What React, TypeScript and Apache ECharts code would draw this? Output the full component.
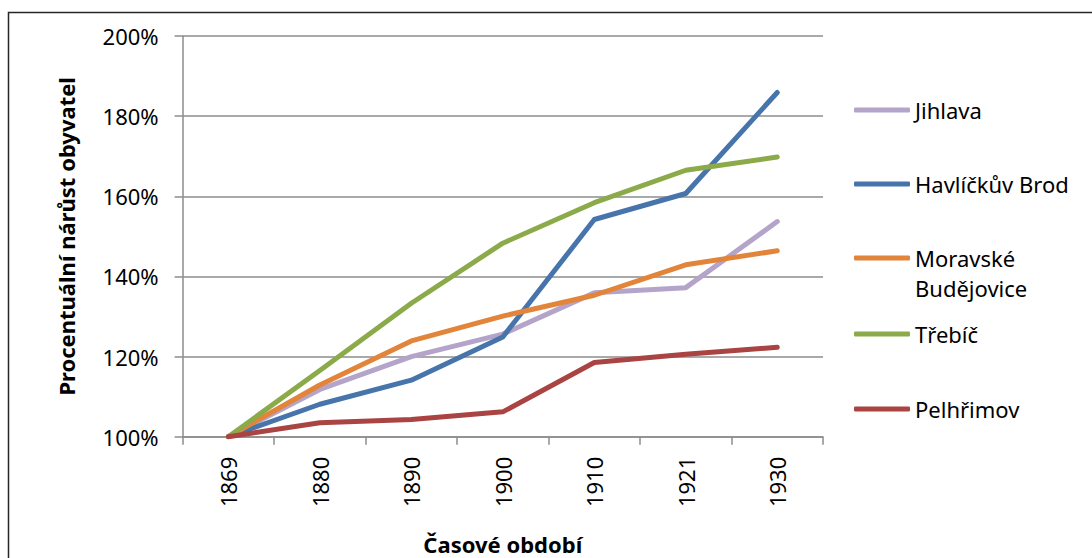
import React, { useEffect, useRef } from "react";
import * as echarts from "echarts";

const years = ["1869", "1880", "1890", "1900", "1910", "1921", "1930"];
const jihlava = [100, 111.8, 120.0, 125.6, 135.9, 137.2, 153.7];
const havlickuvBrod = [100, 108.1, 114.1, 124.9, 154.2, 160.7, 185.9];
const moravskeBudejovice = [100, 112.9, 123.9, 130.1, 135.3, 142.9, 146.4];
const trebic = [100, 116.5, 133.3, 148.3, 158.4, 166.5, 169.8];
const pelhrimov = [100, 103.5, 104.3, 106.2, 118.5, 120.6, 122.3];

const seriesNames = ["Jihlava", "Havlíčkův Brod", "Moravské Budějovice", "Třebíč", "Pelhřimov"];
const seriesData = [jihlava, havlickuvBrod, moravskeBudejovice, trebic, pelhrimov];
const seriesColors = ["#B4A4C9", "#4674AB", "#E2843A", "#8BAA4A", "#A94442"];
const legendCenters = [110, 184, 258, 334, 409];

const yAxisTitle = "Procentuální nárůst obyvatel";
const xAxisTitle = "Časové období";

const FONT = "'Noto Sans', sans-serif";

export default function App() {
  const ref = useRef<HTMLDivElement>(null);

  useEffect(() => {
    if (!ref.current) return;
    const chart = echarts.init(ref.current, undefined, { renderer: "svg" });

    const legends = seriesNames.map((name, i) => {
      const twoLine = name === "Moravské Budějovice";
      return {
        data: [{ name, icon: "roundRect" }],
        orient: "vertical",
        left: 854,
        top: twoLine ? legendCenters[i] - 45 : legendCenters[i] - 15,
        padding: 0,
        itemWidth: 56,
        itemHeight: 5,
        selectedMode: false,
        formatter: (n: string) => (n === "Moravské Budějovice" ? "\nMoravské\nBudějovice" : n),
        textStyle: { fontFamily: FONT, fontSize: 22, color: "#000", lineHeight: 30 },
      };
    });

    chart.setOption({
      animation: false,
      backgroundColor: "#fff",
      textStyle: { fontFamily: FONT },
      grid: {
        left: 182.6,
        right: 269,
        top: 36,
        bottom: 121.3,
        containLabel: false,
        outerBoundsMode: "none",
      },
      legend: legends,
      graphic: [
        {
          type: "rect",
          shape: { x: 8.5, y: 12.5, width: 1200, height: 700 },
          style: { fill: "none", stroke: "#262626", lineWidth: 1.5 },
          silent: true,
        },
      ],
      xAxis: {
        type: "category",
        data: years,
        boundaryGap: true,
        name: xAxisTitle,
        nameLocation: "middle",
        nameGap: 96,
        nameTextStyle: { fontFamily: FONT, fontSize: 22, fontWeight: "bold", color: "#000" },
        axisLine: { show: true, lineStyle: { color: "#8C8C8C", width: 1.5 } },
        axisTick: { show: true, alignWithLabel: false, length: 8, lineStyle: { color: "#8C8C8C", width: 1.5 } },
        axisLabel: { rotate: 90, margin: 20, fontFamily: FONT, fontSize: 22, color: "#000" },
        splitLine: { show: false },
      },
      yAxis: {
        type: "value",
        min: 100,
        max: 200,
        interval: 20,
        name: yAxisTitle,
        nameLocation: "middle",
        nameGap: 106,
        nameTextStyle: { fontFamily: FONT, fontSize: 22, fontWeight: "bold", color: "#000" },
        axisLine: { show: true, lineStyle: { color: "#8C8C8C", width: 1.5 } },
        axisTick: { show: true, length: 8, lineStyle: { color: "#8C8C8C", width: 1.5 } },
        axisLabel: { formatter: "{value}%", margin: 24, fontFamily: FONT, fontSize: 22, color: "#000" },
        splitLine: { show: true, lineStyle: { color: "#8C8C8C", width: 1.5 } },
      },
      series: seriesNames.map((name, i) => ({
        name,
        type: "line",
        data: seriesData[i],
        symbol: "none",
        color: seriesColors[i],
        lineStyle: { width: 5, color: seriesColors[i], cap: "round", join: "round" },
      })),
    });

    return () => chart.dispose();
  }, []);

  return (
    <div
      ref={ref}
      style={{ position: "absolute", left: 0, top: 0, width: 1092, height: 558 }}
    />
  );
}
